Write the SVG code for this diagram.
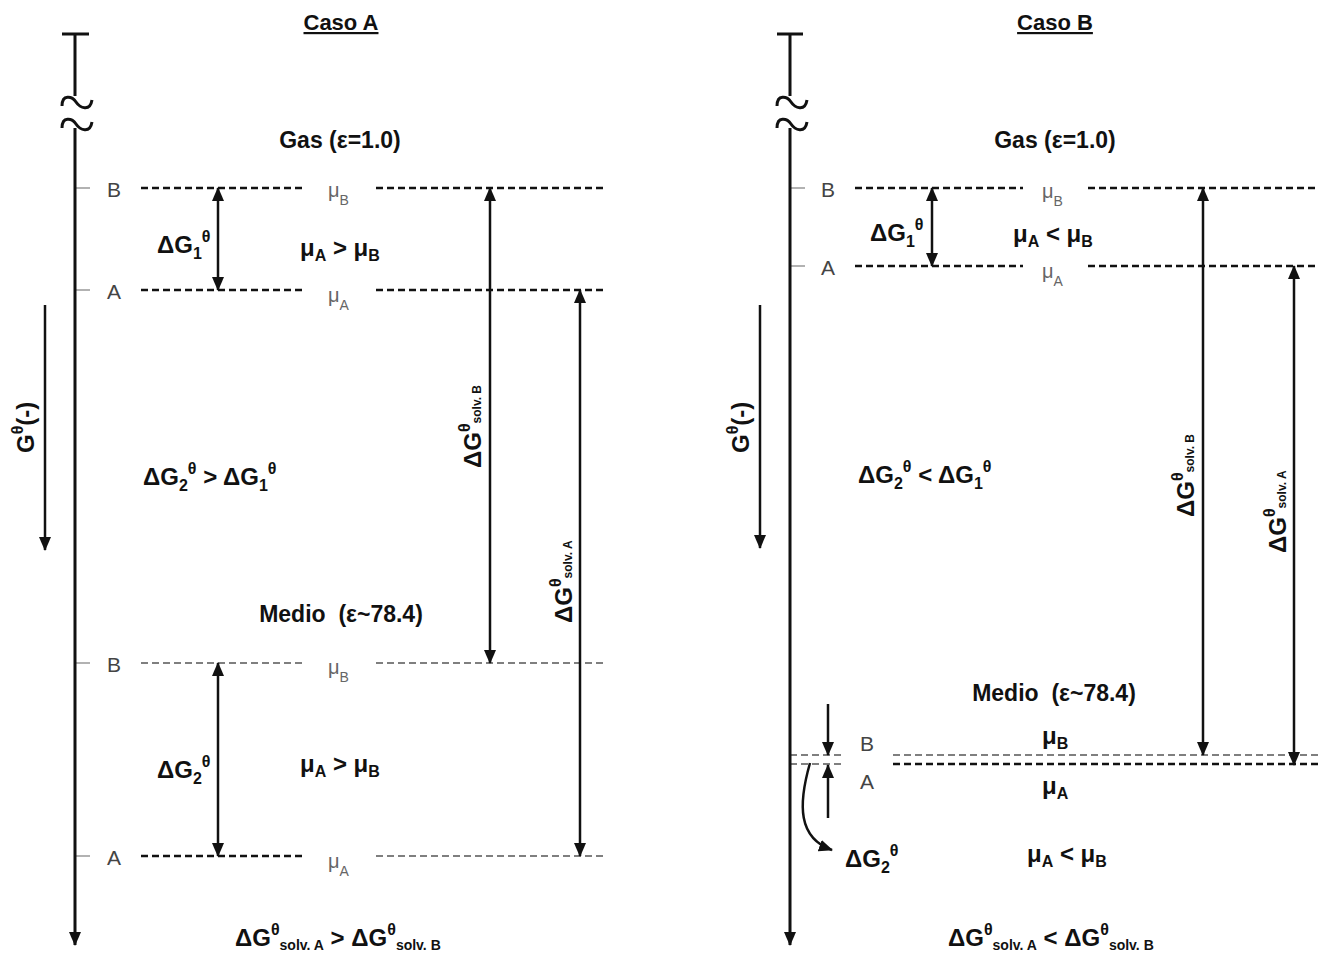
<svg xmlns="http://www.w3.org/2000/svg" width="1318" height="957" viewBox="0 0 1318 957">
<style>
text{font-family:"Liberation Sans",Arial,sans-serif;fill:#111}
.t{font-size:22px;font-weight:bold;text-decoration:underline}
.h{font-size:23px;font-weight:bold}
.b{font-size:24px;font-weight:bold}
.l{font-size:21px;fill:#444}
.mu{font-size:20px;fill:#666}
.mu .sub{font-size:14px}
.sub{font-size:16px}
.sup{font-size:16px}
.ss{font-size:14px}
.ax{stroke:#111;stroke-width:3;fill:none}
.ar{stroke:#111;stroke-width:2.5;fill:none}
.dk{stroke:#111;stroke-width:2.5;stroke-dasharray:7 4;fill:none}
.lt{stroke:#555;stroke-width:1.5;stroke-dasharray:7 4;fill:none}
.tk{stroke:#999;stroke-width:1.5;fill:none}
</style>
<defs>
<marker id="ah" markerUnits="userSpaceOnUse" markerWidth="14" markerHeight="12" refX="13" refY="6" orient="auto-start-reverse" viewBox="0 0 14 12"><path d="M0,0 L14,6 L0,12 z" fill="#111"/></marker>
</defs>

<g id="casoA">
<text class="t" x="341" y="30" text-anchor="middle">Caso A</text>
<text class="h" x="340" y="148" text-anchor="middle">Gas (ε=1.0)</text>
<text class="h" x="341" y="622" text-anchor="middle">Medio&#160; (ε~78.4)</text>
<g id="A-levels">
<path class="tk" d="M75,188 H90 M75,290 H90 M75,663 H90 M75,856 H90"/>
<text class="l" x="114" y="197" text-anchor="middle">B</text>
<text class="l" x="114" y="299" text-anchor="middle">A</text>
<text class="l" x="114" y="672" text-anchor="middle">B</text>
<text class="l" x="114" y="865" text-anchor="middle">A</text>
<path class="dk" d="M141,188 H306 M376,188 H607 M141,290 H306 M376,290 H607 M141,856 H306"/>
<path class="lt" d="M141,663 H306 M376,663 H607 M376,856 H607"/>
<text class="mu" x="328" y="197">μ<tspan class="sub" dy="8">B</tspan></text>
<text class="mu" x="328" y="302">μ<tspan class="sub" dy="8">A</tspan></text>
<text class="mu" x="328" y="674">μ<tspan class="sub" dy="8">B</tspan></text>
<text class="mu" x="328" y="868">μ<tspan class="sub" dy="8">A</tspan></text>
</g>
<text class="b" x="157" y="253">ΔG<tspan class="sub" dy="6">1</tspan><tspan class="sup" dy="-17">θ</tspan></text>
<text class="b" x="300" y="256">μ<tspan class="sub" dy="5">A</tspan><tspan dy="-5"> &gt; μ</tspan><tspan class="sub" dy="5">B</tspan></text>
<text class="b" x="143" y="485">ΔG<tspan class="sub" dy="6">2</tspan><tspan class="sup" dy="-17">θ</tspan><tspan dy="11"> &gt; ΔG</tspan><tspan class="sub" dy="6">1</tspan><tspan class="sup" dy="-17">θ</tspan></text>
<text class="b" x="157" y="778">ΔG<tspan class="sub" dy="6">2</tspan><tspan class="sup" dy="-17">θ</tspan></text>
<text class="b" x="300" y="772">μ<tspan class="sub" dy="5">A</tspan><tspan dy="-5"> &gt; μ</tspan><tspan class="sub" dy="5">B</tspan></text>
<text class="b" transform="translate(34,453) rotate(-90)">G<tspan class="sup" dy="-11">θ</tspan><tspan dy="11">(-)</tspan></text>
<text class="b" font-size="26" transform="translate(481,468) rotate(-90)">ΔG<tspan class="sup" dy="-11">θ</tspan><tspan font-size="12" dy="11">solv. B</tspan></text>
<text class="b" font-size="26" transform="translate(572,623) rotate(-90)">ΔG<tspan class="sup" dy="-11">θ</tspan><tspan font-size="12" dy="11">solv. A</tspan></text>
<text class="b" x="235" y="946">ΔG<tspan class="sup" dy="-11">θ</tspan><tspan class="ss" dy="15">solv. A</tspan><tspan dy="-4"> &gt; ΔG</tspan><tspan class="sup" dy="-11">θ</tspan><tspan class="ss" dy="15">solv. B</tspan></text>
</g>

<g id="casoB">
<text class="t" x="1055" y="30" text-anchor="middle">Caso B</text>
<text class="h" x="1055" y="148" text-anchor="middle">Gas (ε=1.0)</text>
<text class="h" x="1054" y="701" text-anchor="middle">Medio&#160; (ε~78.4)</text>
<g id="B-levels">
<path class="tk" d="M790,188 H805 M790,266 H805"/>
<text class="l" x="828" y="197" text-anchor="middle">B</text>
<text class="l" x="828" y="275" text-anchor="middle">A</text>
<text class="l" x="867" y="751" text-anchor="middle">B</text>
<text class="l" x="867" y="789" text-anchor="middle">A</text>
<path class="dk" d="M855,188 H1023 M1088,188 H1318 M855,266 H1023 M1088,266 H1318 M893,764 H1318"/>
<path class="lt" d="M790,755 H842 M790,764 H842 M893,755 H1318"/>
<text class="mu" x="1042" y="198">μ<tspan class="sub" dy="8">B</tspan></text>
<text class="mu" x="1042" y="278">μ<tspan class="sub" dy="8">A</tspan></text>
<text class="b" x="1042" y="744">μ<tspan class="sub" dy="5">B</tspan></text>
<text class="b" x="1042" y="794">μ<tspan class="sub" dy="5">A</tspan></text>
</g>
<text class="b" x="870" y="241">ΔG<tspan class="sub" dy="6">1</tspan><tspan class="sup" dy="-17">θ</tspan></text>
<text class="b" x="1013" y="242">μ<tspan class="sub" dy="5">A</tspan><tspan dy="-5"> &lt; μ</tspan><tspan class="sub" dy="5">B</tspan></text>
<text class="b" x="858" y="483">ΔG<tspan class="sub" dy="6">2</tspan><tspan class="sup" dy="-17">θ</tspan><tspan dy="11"> &lt; ΔG</tspan><tspan class="sub" dy="6">1</tspan><tspan class="sup" dy="-17">θ</tspan></text>
<text class="b" x="845" y="867">ΔG<tspan class="sub" dy="6">2</tspan><tspan class="sup" dy="-17">θ</tspan></text>
<text class="b" x="1027" y="862">μ<tspan class="sub" dy="5">A</tspan><tspan dy="-5"> &lt; μ</tspan><tspan class="sub" dy="5">B</tspan></text>
<text class="b" transform="translate(749,453) rotate(-90)">G<tspan class="sup" dy="-11">θ</tspan><tspan dy="11">(-)</tspan></text>
<text class="b" font-size="26" transform="translate(1194,517) rotate(-90)">ΔG<tspan class="sup" dy="-11">θ</tspan><tspan font-size="12" dy="11">solv. B</tspan></text>
<text class="b" font-size="26" transform="translate(1286,553) rotate(-90)">ΔG<tspan class="sup" dy="-11">θ</tspan><tspan font-size="12" dy="11">solv. A</tspan></text>
<text class="b" x="948" y="946">ΔG<tspan class="sup" dy="-11">θ</tspan><tspan class="ss" dy="15">solv. A</tspan><tspan dy="-4"> &lt; ΔG</tspan><tspan class="sup" dy="-11">θ</tspan><tspan class="ss" dy="15">solv. B</tspan></text>
</g>

<g id="connectors">
<path class="ax" d="M62,34 H89 M75,34 V96"/>
<path class="ax" d="M62,106 C62,94 72,96 76,102 S90,112 92,100"/>
<path class="ax" d="M62,128 C62,116 72,118 76,124 S90,134 92,122"/>
<path class="ax" d="M75,128 V945" marker-end="url(#ah)"/>
<path class="ax" d="M777,34 H803 M790,34 V96"/>
<path class="ax" d="M777,106 C777,94 787,96 791,102 S805,112 807,100"/>
<path class="ax" d="M777,128 C777,116 787,118 791,124 S805,134 807,122"/>
<path class="ax" d="M790,128 V945" marker-end="url(#ah)"/>
<path class="ar" d="M45,305 V550" marker-end="url(#ah)"/>
<path class="ar" d="M760,305 V548" marker-end="url(#ah)"/>
<path class="ar" d="M218,188 V290" marker-start="url(#ah)" marker-end="url(#ah)"/>
<path class="ar" d="M490,188 V663" marker-start="url(#ah)" marker-end="url(#ah)"/>
<path class="ar" d="M580,290 V856" marker-start="url(#ah)" marker-end="url(#ah)"/>
<path class="ar" d="M218,663 V856" marker-start="url(#ah)" marker-end="url(#ah)"/>
<path class="ar" d="M932,188 V266" marker-start="url(#ah)" marker-end="url(#ah)"/>
<path class="ar" d="M1203,188 V755" marker-start="url(#ah)" marker-end="url(#ah)"/>
<path class="ar" d="M1294,266 V765" marker-start="url(#ah)" marker-end="url(#ah)"/>
<path class="ar" d="M828,704 V755" marker-end="url(#ah)"/>
<path class="ar" d="M828,818 V765" marker-end="url(#ah)"/>
<path class="ar" d="M810,763 C798,805 798,838 832,850" marker-end="url(#ah)"/>
</g>
</svg>
